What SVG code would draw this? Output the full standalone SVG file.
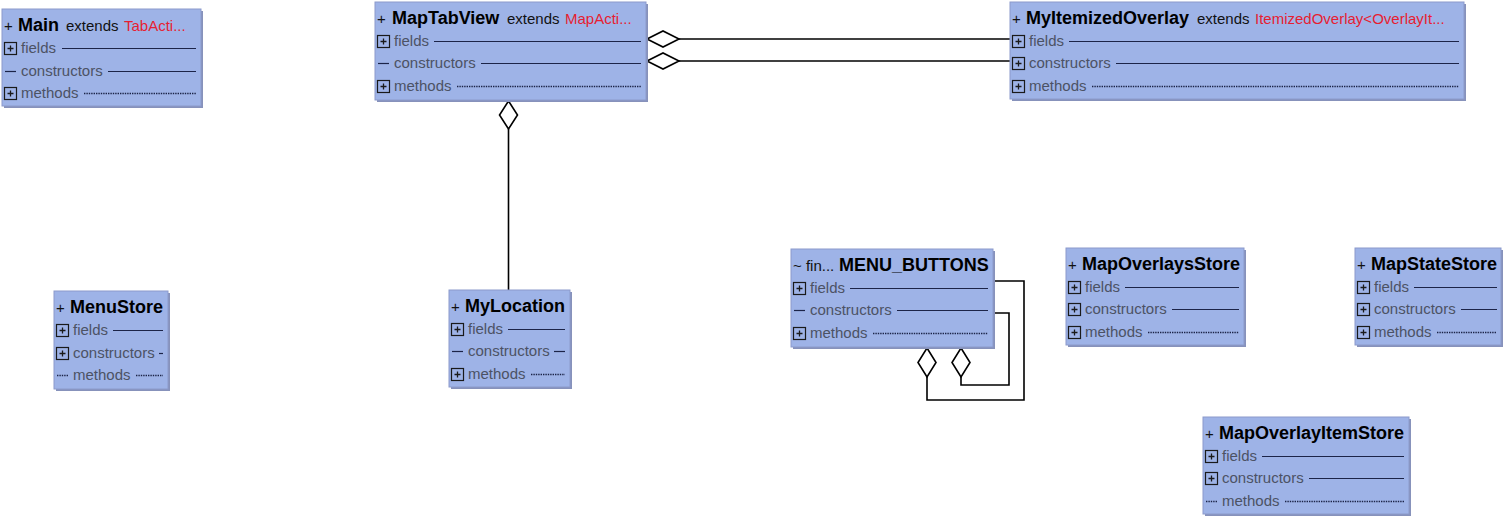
<svg xmlns="http://www.w3.org/2000/svg" xmlns:xlink="http://www.w3.org/1999/xlink" width="1503" height="516" viewBox="0 0 1503 516">
<style>
.shadow{fill:#8792bb}
.box{fill:#9eb3e7;stroke:#8c9acb;stroke-width:1}
.plus{font-family:"Liberation Sans",Arial,sans-serif;font-size:15px;fill:#111}
.name{font-family:"Liberation Sans",Arial,sans-serif;font-size:18px;font-weight:bold;fill:#000}
.ext{font-family:"Liberation Sans",Arial,sans-serif;font-size:15px;fill:#111}
.red{font-family:"Liberation Sans",Arial,sans-serif;font-size:15px;fill:#e61e32}
.row{font-family:"Liberation Sans",Arial,sans-serif;font-size:15px;fill:#4c5264}
.sep{stroke:#1c2448;stroke-width:1.2;fill:none}
.dot{stroke:#1c2448;stroke-width:1.6;stroke-dasharray:1.4 1;fill:none}
.edge{stroke:#000;stroke-width:1.6;fill:none}
.dia{stroke:#000;stroke-width:1.6;fill:#fff}
</style>
<defs>
<g id="pb">
<rect x="0.5" y="-5.5" width="12" height="12" fill="none" stroke="#1a1a1a" stroke-width="1.2"/>
<path d="M3.5 0.5H9.5M6.5 -2.5V3.5" stroke="#1a1a1a" stroke-width="1.3"/>
</g>
</defs>

<g id="connectors">
<line class="edge" x1="679" y1="39" x2="1010" y2="39"/>
<line class="edge" x1="679" y1="61" x2="1010" y2="61"/>
<polygon class="dia" points="647,39 663,31 679,39 663,47"/>
<polygon class="dia" points="647,61 663,53 679,61 663,69"/>
<line class="edge" x1="508.5" y1="129" x2="508.5" y2="290"/>
<polygon class="dia" points="508.5,101 517.5,115 508.5,129 499.5,115"/>
<path class="edge" d="M927 377V400H1024V281H993"/>
<path class="edge" d="M961 377V385H1009V313H993"/>
<polygon class="dia" points="927,348 936,362.5 927,377 918,362.5"/>
<polygon class="dia" points="961,348 970,362.5 961,377 952,362.5"/>
</g>

<g id="Main">
<rect class="shadow" x="4" y="11" width="199" height="97"/>
<rect class="box" x="2" y="9" width="199" height="97"/>
<text class="plus" x="4" y="31">+</text>
<text class="name" x="18" y="31">Main</text>
<text class="ext" x="66" y="31">extends</text>
<text class="red" x="124" y="31">TabActi...</text>
<use xlink:href="#pb" x="4" y="48"/>
<text class="row" x="21" y="53">fields</text>
<line class="sep" x1="62" y1="48.5" x2="196" y2="48.5"/>
<line class="sep" x1="5" y1="71.5" x2="16" y2="71.5"/>
<text class="row" x="21" y="76">constructors</text>
<line class="sep" x1="108" y1="71.5" x2="196" y2="71.5"/>
<use xlink:href="#pb" x="4" y="93"/>
<text class="row" x="21" y="98">methods</text>
<line class="dot" x1="84" y1="93.5" x2="196" y2="93.5"/>
</g>

<g id="MapTabView">
<rect class="shadow" x="377" y="4" width="271" height="98"/>
<rect class="box" x="375" y="2" width="271" height="98"/>
<text class="plus" x="377" y="24">+</text>
<text class="name" x="392" y="24">MapTabView</text>
<text class="ext" x="507" y="24">extends</text>
<text class="red" x="565" y="24">MapActi...</text>
<use xlink:href="#pb" x="377" y="41"/>
<text class="row" x="394" y="46">fields</text>
<line class="sep" x1="434" y1="41.5" x2="641" y2="41.5"/>
<line class="sep" x1="378" y1="63.5" x2="389" y2="63.5"/>
<text class="row" x="394" y="68">constructors</text>
<line class="sep" x1="481" y1="63.5" x2="641" y2="63.5"/>
<use xlink:href="#pb" x="377" y="86"/>
<text class="row" x="394" y="91">methods</text>
<line class="dot" x1="457" y1="86.5" x2="641" y2="86.5"/>
</g>

<g id="MyItemizedOverlay">
<rect class="shadow" x="1012" y="4" width="454" height="97"/>
<rect class="box" x="1010" y="2" width="454" height="97"/>
<text class="plus" x="1012" y="24">+</text>
<text class="name" x="1026" y="24">MyItemizedOverlay</text>
<text class="ext" x="1197" y="24">extends</text>
<text class="red" x="1255" y="24">ItemizedOverlay&lt;OverlayIt...</text>
<use xlink:href="#pb" x="1012" y="41"/>
<text class="row" x="1029" y="46">fields</text>
<line class="sep" x1="1069" y1="41.5" x2="1459" y2="41.5"/>
<use xlink:href="#pb" x="1012" y="63"/>
<text class="row" x="1029" y="68">constructors</text>
<line class="sep" x1="1116" y1="63.5" x2="1459" y2="63.5"/>
<use xlink:href="#pb" x="1012" y="86"/>
<text class="row" x="1029" y="91">methods</text>
<line class="dot" x1="1092" y1="86.5" x2="1459" y2="86.5"/>
</g>

<g id="MenuStore">
<rect class="shadow" x="56" y="293" width="114" height="98"/>
<rect class="box" x="54" y="291" width="114" height="98"/>
<text class="plus" x="56" y="313">+</text>
<text class="name" x="70" y="313">MenuStore</text>
<use xlink:href="#pb" x="56" y="330"/>
<text class="row" x="73" y="335">fields</text>
<line class="sep" x1="113" y1="330.5" x2="163" y2="330.5"/>
<use xlink:href="#pb" x="56" y="353"/>
<text class="row" x="73" y="358">constructors</text>
<line class="sep" x1="159" y1="353.5" x2="163" y2="353.5"/>
<line class="dot" x1="57" y1="375.5" x2="68" y2="375.5"/>
<text class="row" x="73" y="380">methods</text>
<line class="dot" x1="136" y1="375.5" x2="163" y2="375.5"/>
</g>

<g id="MyLocation">
<rect class="shadow" x="451" y="292" width="121" height="97"/>
<rect class="box" x="449" y="290" width="121" height="97"/>
<text class="plus" x="451" y="312">+</text>
<text class="name" x="465" y="312">MyLocation</text>
<use xlink:href="#pb" x="451" y="329"/>
<text class="row" x="468" y="334">fields</text>
<line class="sep" x1="508" y1="329.5" x2="565" y2="329.5"/>
<line class="sep" x1="452" y1="351.5" x2="463" y2="351.5"/>
<text class="row" x="468" y="356">constructors</text>
<line class="sep" x1="554" y1="351.5" x2="565" y2="351.5"/>
<use xlink:href="#pb" x="451" y="374"/>
<text class="row" x="468" y="379">methods</text>
<line class="dot" x1="531" y1="374.5" x2="565" y2="374.5"/>
</g>

<g id="MENU_BUTTONS">
<rect class="shadow" x="793" y="251" width="202" height="98"/>
<rect class="box" x="791" y="249" width="202" height="98"/>
<text class="plus" x="793" y="271">~ fin...</text>
<text class="name" x="839" y="271">MENU_BUTTONS</text>
<use xlink:href="#pb" x="793" y="288"/>
<text class="row" x="810" y="293">fields</text>
<line class="sep" x1="850" y1="288.5" x2="988" y2="288.5"/>
<line class="sep" x1="794" y1="310.5" x2="805" y2="310.5"/>
<text class="row" x="810" y="315">constructors</text>
<line class="sep" x1="897" y1="310.5" x2="988" y2="310.5"/>
<use xlink:href="#pb" x="793" y="333"/>
<text class="row" x="810" y="338">methods</text>
<line class="dot" x1="873" y1="333.5" x2="988" y2="333.5"/>
</g>

<g id="MapOverlaysStore">
<rect class="shadow" x="1068" y="250" width="178" height="97"/>
<rect class="box" x="1066" y="248" width="178" height="97"/>
<text class="plus" x="1068" y="270">+</text>
<text class="name" x="1082" y="270">MapOverlaysStore</text>
<use xlink:href="#pb" x="1068" y="287"/>
<text class="row" x="1085" y="292">fields</text>
<line class="sep" x1="1125" y1="287.5" x2="1239" y2="287.5"/>
<use xlink:href="#pb" x="1068" y="309"/>
<text class="row" x="1085" y="314">constructors</text>
<line class="sep" x1="1172" y1="309.5" x2="1239" y2="309.5"/>
<use xlink:href="#pb" x="1068" y="332"/>
<text class="row" x="1085" y="337">methods</text>
<line class="dot" x1="1148" y1="332.5" x2="1239" y2="332.5"/>
</g>

<g id="MapStateStore">
<rect class="shadow" x="1357" y="250" width="146" height="97"/>
<rect class="box" x="1355" y="248" width="146" height="97"/>
<text class="plus" x="1357" y="270">+</text>
<text class="name" x="1371" y="270">MapStateStore</text>
<use xlink:href="#pb" x="1357" y="287"/>
<text class="row" x="1374" y="292">fields</text>
<line class="sep" x1="1414" y1="287.5" x2="1497" y2="287.5"/>
<use xlink:href="#pb" x="1357" y="309"/>
<text class="row" x="1374" y="314">constructors</text>
<line class="sep" x1="1461" y1="309.5" x2="1497" y2="309.5"/>
<use xlink:href="#pb" x="1357" y="332"/>
<text class="row" x="1374" y="337">methods</text>
<line class="dot" x1="1437" y1="332.5" x2="1497" y2="332.5"/>
</g>

<g id="MapOverlayItemStore">
<rect class="shadow" x="1205" y="419" width="206" height="97"/>
<rect class="box" x="1203" y="417" width="206" height="97"/>
<text class="plus" x="1205" y="439">+</text>
<text class="name" x="1219" y="439">MapOverlayItemStore</text>
<use xlink:href="#pb" x="1205" y="456"/>
<text class="row" x="1222" y="461">fields</text>
<line class="sep" x1="1262" y1="456.5" x2="1404" y2="456.5"/>
<use xlink:href="#pb" x="1205" y="478"/>
<text class="row" x="1222" y="483">constructors</text>
<line class="sep" x1="1309" y1="478.5" x2="1404" y2="478.5"/>
<line class="dot" x1="1206" y1="501.5" x2="1217" y2="501.5"/>
<text class="row" x="1222" y="506">methods</text>
<line class="dot" x1="1285" y1="501.5" x2="1404" y2="501.5"/>
</g>
</svg>
